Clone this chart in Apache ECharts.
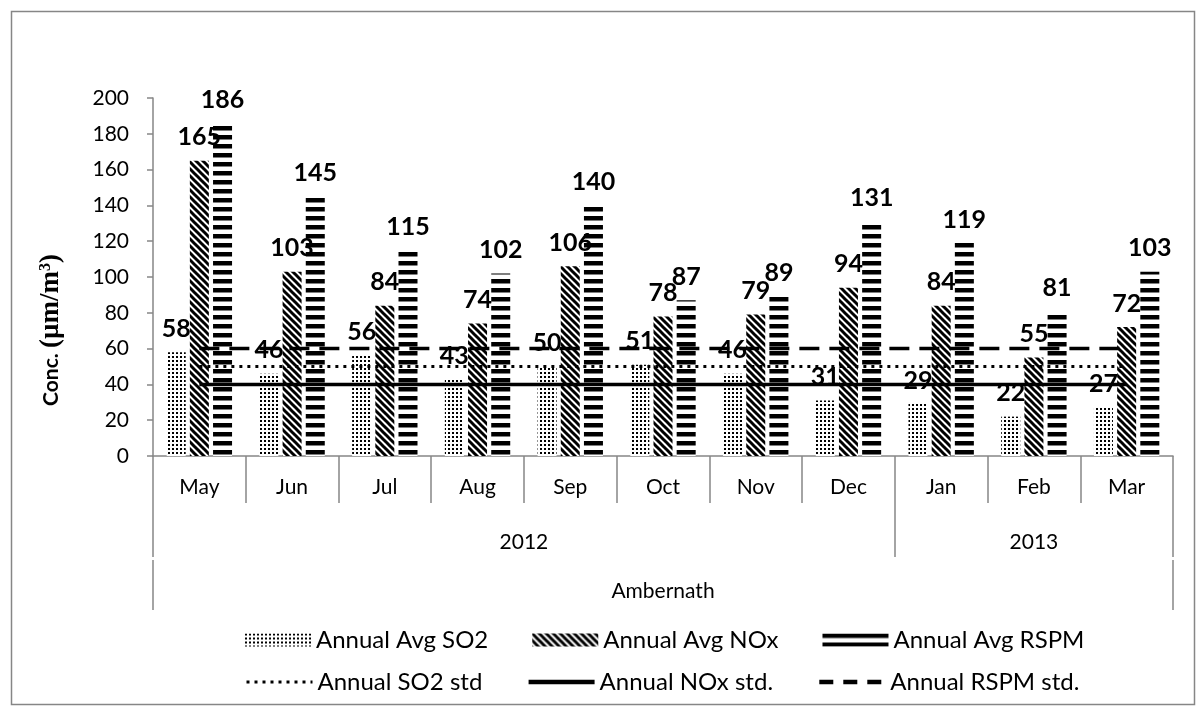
<!DOCTYPE html>
<html>
<head>
<meta charset="utf-8">
<script src="https://cdn.jsdelivr.net/npm/echarts@6/dist/echarts.min.js"></script>
<style>
html,body{margin:0;padding:0;background:#fff;}
#chart{width:1202px;height:711px;}
</style>
</head>
<body>
<div id="chart"></div>
<script>
// ---- data ----
const months = ['May','Jun','Jul','Aug','Sep','Oct','Nov','Dec','Jan','Feb','Mar'];
const years = ['2012','2013'];
const yearSpans = [8, 3];
const siteName = 'Ambernath';
const so2 = [58, 46, 56, 43, 50, 51, 46, 31, 29, 22, 27];
const nox = [165, 103, 84, 74, 106, 78, 79, 94, 84, 55, 72];
const rspm = [186, 145, 115, 102, 140, 87, 89, 131, 119, 81, 103];
const so2Std = [50, 50, 50, 50, 50, 50, 50, 50, 50, 50, 50];
const noxStd = [40, 40, 40, 40, 40, 40, 40, 40, 40, 40, 40];
const rspmStd = [60, 60, 60, 60, 60, 60, 60, 60, 60, 60, 60];
const yTicks = [0, 20, 40, 60, 80, 100, 120, 140, 160, 180, 200];

// ---- derived axis helpers ----
const yearBounds = [0];
yearSpans.forEach(s => yearBounds.push(yearBounds[yearBounds.length - 1] + s));
const yearCenters = years.map((y, i) => (yearBounds[i] + yearBounds[i + 1]) / 2);
const nCat = months.length;

// ---- patterns ----
function dotPattern() {
  const c = document.createElement('canvas'); c.width = 4; c.height = 4;
  const g = c.getContext('2d');
  g.fillStyle = '#fff'; g.fillRect(0, 0, 4, 4);
  g.fillStyle = '#000'; g.fillRect(0, 0, 2, 2);
  return c;
}
function diagPattern() {
  const s = 7;
  const c = document.createElement('canvas'); c.width = s; c.height = s;
  const g = c.getContext('2d');
  g.fillStyle = '#fff'; g.fillRect(0, 0, s, s);
  g.strokeStyle = '#000'; g.lineWidth = 3;
  for (let k = -1; k <= 1; k++) {
    g.beginPath(); g.moveTo(-1, k * s - 1); g.lineTo(s + 1, s + k * s + 1); g.stroke();
  }
  return c;
}
function hPattern() {
  const c = document.createElement('canvas'); c.width = 4; c.height = 9;
  const g = c.getContext('2d');
  g.fillStyle = '#fff'; g.fillRect(0, 0, 4, 9);
  g.fillStyle = '#000'; g.fillRect(0, 0, 4, 4.5);
  return c;
}

const FONT = 'Lato';
const GRAY = '#868686';
const labelStyle = {
  show: true, position: 'top', distance: 11,
  fontFamily: FONT, fontWeight: 'bold', fontSize: 25, color: '#000'
};
const legendText = {fontFamily: FONT, fontSize: 24, color: '#000'};

const chart = echarts.init(document.getElementById('chart'), null, {renderer: 'canvas'});
const option = {
  backgroundColor: '#fff',
  animation: false,
  textStyle: {fontFamily: FONT},
  graphic: [{
    type: 'rect', left: 9, top: 9, silent: true,
    shape: {width: 1183, height: 693},
    style: {fill: 'none', stroke: GRAY, lineWidth: 1.5}
  }],
  grid: {left: 153, right: 29, top: 98, bottom: 255, containLabel: false},
  legend: [{
    data: ['Annual Avg SO2', 'Annual Avg NOx', 'Annual Avg RSPM'],
    left: 240, top: 623, itemWidth: 66, itemHeight: 13, itemGap: 44,
    icon: 'rect',
    textStyle: legendText
  }, {
    data: [
      {name: 'Annual SO2 std', lineStyle: {width: 3, type: [3, 5]}},
      {name: 'Annual NOx std.', lineStyle: {width: 4.5, type: 'solid'}},
      {name: 'Annual RSPM std.', lineStyle: {width: 4.5, type: [14, 10]}}
    ],
    left: 240, top: 665, itemWidth: 66, itemHeight: 13, itemGap: 44,
    itemStyle: {opacity: 0},
    textStyle: legendText
  }],
  xAxis: [{
    type: 'category', data: months, position: 'bottom',
    axisLine: {show: true, lineStyle: {color: GRAY, width: 1.5}},
    axisTick: {show: true, length: 47, lineStyle: {color: GRAY, width: 1.5}},
    axisLabel: {fontFamily: FONT, fontSize: 21, color: '#000', margin: 21, interval: 0},
    splitLine: {show: false}
  }, {
    type: 'value', min: 0, max: nCat, position: 'bottom', offset: 47,
    axisLine: {show: false},
    axisTick: {show: true, customValues: yearBounds, length: 54, lineStyle: {color: GRAY, width: 1.5}},
    axisLabel: {
      customValues: yearCenters, fontFamily: FONT, fontSize: 21, color: '#000', margin: 29,
      formatter: v => years[yearCenters.indexOf(v)] || ''
    },
    splitLine: {show: false}
  }, {
    type: 'value', min: 0, max: nCat, position: 'bottom', offset: 104,
    axisLine: {show: false},
    axisTick: {show: true, customValues: [0, nCat], length: 50, lineStyle: {color: GRAY, width: 1.5}},
    axisLabel: {
      customValues: [nCat / 2], fontFamily: FONT, fontSize: 21, color: '#000', margin: 21,
      formatter: () => siteName
    },
    splitLine: {show: false}
  }],
  yAxis: {
    type: 'value', min: yTicks[0], max: yTicks[yTicks.length - 1], interval: yTicks[1] - yTicks[0],
    name: '{a|Conc. }{b|(µm/m}{s|3}{b|)}', nameLocation: 'middle', nameRotate: 90, nameGap: 88,
    nameTextStyle: {
      padding: [0, 106, 0, 0],
      rich: {
        a: {fontFamily: FONT, fontWeight: 'bold', fontSize: 21, color: '#000'},
        b: {fontFamily: 'Liberation Serif', fontWeight: 'bold', fontSize: 27, color: '#000'},
        s: {fontFamily: 'Liberation Serif', fontWeight: 'bold', fontSize: 16, color: '#000', verticalAlign: 'top'}
      }
    },
    axisLine: {show: true, lineStyle: {color: GRAY, width: 1.5}},
    axisTick: {show: true, length: 6, lineStyle: {color: GRAY, width: 1.5}},
    axisLabel: {fontFamily: FONT, fontSize: 21, color: '#000', margin: 24},
    splitLine: {show: false}
  },
  series: [{
    name: 'Annual Avg SO2', type: 'bar', data: so2, barWidth: 19, barGap: '22%',
    itemStyle: {color: {image: dotPattern(), repeat: 'repeat'}},
    label: labelStyle
  }, {
    name: 'Annual Avg NOx', type: 'bar', data: nox, barWidth: 19, barGap: '22%',
    itemStyle: {color: {image: diagPattern(), repeat: 'repeat'}},
    label: labelStyle
  }, {
    name: 'Annual Avg RSPM', type: 'bar', data: rspm, barWidth: 19, barGap: '22%',
    itemStyle: {color: {image: hPattern(), repeat: 'repeat'}},
    label: labelStyle
  }, {
    name: 'Annual SO2 std', type: 'line', data: so2Std, symbol: 'none', showSymbol: false,
    lineStyle: {color: '#000', width: 3, type: [3, 5], cap: 'butt'},
    itemStyle: {color: '#000'}, z: 5
  }, {
    name: 'Annual NOx std.', type: 'line', data: noxStd, symbol: 'none', showSymbol: false,
    lineStyle: {color: '#000', width: 3.5, type: 'solid'},
    itemStyle: {color: '#000'}, z: 5
  }, {
    name: 'Annual RSPM std.', type: 'line', data: rspmStd, symbol: 'none', showSymbol: false,
    lineStyle: {color: '#000', width: 3.5, type: [20, 10]},
    itemStyle: {color: '#000'}, z: 5
  }]
};
chart.setOption(option);
</script>
</body>
</html>
